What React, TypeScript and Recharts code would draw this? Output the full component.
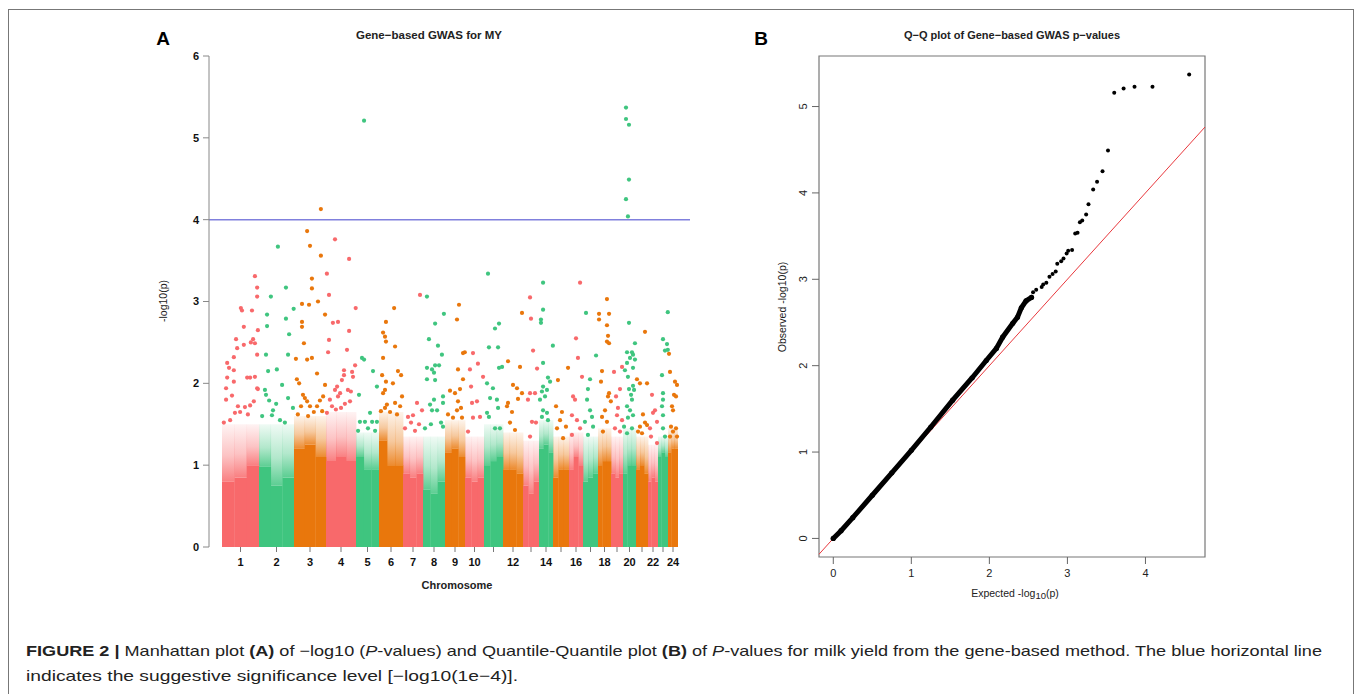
import React from 'react';
import { ScatterChart, Scatter, XAxis, YAxis, ReferenceArea, ReferenceLine } from 'recharts';

// ---- Manhattan plot (A) ----
const chromosomes = ['1', '2', '3', '4', '5', '6', '7', '8', '9', '10', '11', '12', '13', '14', '15', '16', '17', '18', '19', '20', '21', '22', '23', '24'];
const tickLabels = ['1', '2', '3', '4', '5', '6', '7', '8', '9', '10', '', '12', '', '14', '', '16', '', '18', '', '20', '', '22', '', '24'];
// relative number of genes per chromosome (width of each block)
const chrSize = [37, 35, 32, 30, 23, 24, 20, 22, 20, 19, 19, 20, 16, 14, 16, 14, 15, 13, 12, 13, 12, 10, 10, 10];
const chrColors = ['#f8696b', '#3fc57f', '#e9770c'];

// where the dots merge into a solid block (left / middle / right third of each chromosome)
const solidTops = [
  [0.8, 0.85, 1.0], [0.98, 0.75, 0.85], [1.2, 1.25, 1.1], [1.05, 1.1, 1.05], [1.1, 0.95, 0.95],
  [1.3, 1.0, 1.0], [0.9, 0.85, 0.9], [0.7, 0.65, 0.8], [1.15, 1.2, 1.1], [0.85, 0.8, 0.85],
  [1.0, 1.05, 1.1], [0.95, 0.95, 0.9], [0.75, 0.65, 0.8], [1.2, 1.25, 1.15], [0.85, 0.95, 0.95],
  [0.95, 1.1, 1.0], [0.8, 0.85, 0.9], [1.0, 1.05, 1.05], [0.9, 0.85, 0.9], [0.9, 1.0, 1.0],
  [0.95, 1.0, 0.9], [0.8, 0.85, 0.8], [1.1, 1.15, 1.1], [1.15, 1.2, 1.2],
];
// upper edge of the speckled zone above the solid block
const hazeTops = [1.5, 1.5, 1.6, 1.65, 1.4, 1.65, 1.35, 1.35, 1.55, 1.35, 1.5, 1.4, 1.3, 1.55, 1.35, 1.4, 1.35, 1.45, 1.35, 1.45, 1.35, 1.25, 1.35, 1.45];

// individual genes above the dense zone: [position along chromosome (0-1), -log10(p)]
const hitsByChr: number[][][] = [
  [[0.89, 3.31], [0.95, 3.17], [0.95, 3.06], [0.51, 2.92], [0.54, 2.89], [0.81, 2.89], [0.59, 2.69], [0.97, 2.65], [0.38, 2.54], [0.84, 2.54], [0.14, 2.25], [0.19, 2.19], [0.14, 2.07], [0.11, 1.94], [0.11, 1.8], [0.41, 2.43], [0.32, 2.32], [0.32, 2.16], [0.32, 2.02], [0.59, 2.47], [0.78, 2.5], [0.89, 2.49], [0.95, 2.35], [0.68, 2.07], [0.76, 2.07], [0.89, 2.08], [0.95, 1.94], [0.97, 1.93], [0.62, 1.71], [0.76, 1.73], [0.49, 1.65], [0.35, 1.64], [0.22, 1.55], [0.43, 1.72], [0.7, 1.62], [0.86, 1.78], [0.05, 1.52], [0.27, 1.85]],
  [[0.54, 3.67], [0.34, 3.06], [0.23, 2.84], [0.23, 2.7], [0.77, 3.17], [0.77, 2.79], [0.86, 2.6], [0.99, 2.91], [0.2, 2.35], [0.26, 2.15], [0.51, 2.17], [0.83, 2.35], [0.66, 1.98], [0.17, 1.92], [0.2, 1.86], [0.29, 1.79], [0.4, 1.67], [0.37, 1.61], [0.97, 1.7], [0.83, 1.82], [0.09, 1.6], [0.6, 1.55], [0.74, 1.52], [0.49, 1.75]],
  [[0.84, 4.13], [0.41, 3.86], [0.5, 3.68], [0.84, 3.56], [0.56, 3.28], [0.56, 3.16], [0.25, 2.97], [0.47, 2.96], [0.75, 3.0], [0.25, 2.75], [0.25, 2.69], [0.97, 2.84], [0.31, 2.49], [0.06, 2.3], [0.41, 2.29], [0.56, 2.31], [0.09, 2.05], [0.16, 2.0], [0.72, 2.12], [0.97, 1.98], [0.28, 1.86], [0.34, 1.82], [0.41, 1.78], [0.5, 1.72], [0.22, 1.72], [0.81, 1.79], [0.91, 1.84], [0.72, 1.72], [0.62, 1.65], [0.12, 1.62], [0.44, 1.6], [0.88, 1.66]],
  [[0.3, 3.76], [0.77, 3.52], [0.03, 3.34], [0.1, 3.08], [0.23, 2.74], [0.4, 2.75], [0.99, 2.92], [0.77, 2.64], [0.07, 2.38], [0.1, 2.53], [0.7, 2.41], [0.6, 2.16], [0.6, 2.1], [0.53, 2.04], [0.37, 1.96], [0.3, 1.92], [0.47, 1.88], [0.4, 1.84], [0.87, 2.14], [0.9, 2.08], [0.73, 1.92], [0.83, 1.9], [0.13, 1.8], [0.2, 1.72], [0.03, 1.64], [0.97, 2.22], [0.63, 1.75], [0.5, 1.7], [0.33, 1.68], [0.8, 1.78]],
  [[0.35, 5.21], [0.26, 2.31], [0.35, 2.29], [0.74, 2.15], [0.13, 1.86], [0.61, 1.64], [0.17, 1.53], [0.39, 1.53], [0.7, 1.53], [0.91, 1.53], [0.91, 1.96], [0.52, 1.45], [0.83, 1.42], [0.09, 1.42]],
  [[0.29, 2.75], [0.63, 2.92], [0.17, 2.62], [0.25, 2.57], [0.29, 2.51], [0.67, 2.45], [0.17, 2.31], [0.13, 2.1], [0.29, 2.02], [0.58, 2.0], [0.79, 2.15], [0.92, 2.1], [0.25, 1.92], [0.17, 1.88], [0.33, 1.74], [0.25, 1.7], [0.96, 1.84], [0.88, 1.72], [0.67, 1.76], [0.46, 1.65], [0.75, 1.62], [0.08, 1.66]],
  [[0.85, 3.08], [0.25, 1.59], [0.5, 1.61], [0.95, 1.67], [0.4, 1.52], [0.7, 1.76], [0.1, 1.45], [0.6, 1.42], [0.8, 1.5]],
  [[0.18, 3.06], [0.55, 2.73], [0.27, 2.54], [0.95, 2.85], [0.68, 2.46], [0.18, 2.19], [0.18, 2.05], [0.41, 2.17], [0.55, 2.22], [0.73, 2.22], [0.5, 2.13], [0.55, 2.04], [0.86, 2.35], [0.5, 1.8], [0.32, 1.74], [0.41, 1.67], [0.64, 1.67], [0.91, 1.84], [0.91, 1.76], [0.82, 1.52], [0.91, 1.47], [0.09, 1.45], [0.36, 1.5]],
  [[0.7, 2.96], [0.6, 2.78], [0.99, 2.38], [0.9, 2.37], [0.65, 2.17], [0.75, 1.93], [0.25, 1.91], [0.9, 2.05], [0.5, 1.88], [0.65, 1.78], [0.6, 1.67], [0.4, 1.58], [0.85, 1.58], [0.15, 1.62], [0.8, 1.7]],
  [[0.42, 2.37], [0.68, 2.24], [0.26, 2.17], [0.95, 2.08], [0.32, 1.96], [0.63, 1.78], [0.37, 1.76], [0.42, 1.58], [0.79, 1.59], [0.16, 1.41]],
  [[0.21, 3.34], [0.58, 2.67], [0.79, 2.73], [0.26, 2.44], [0.74, 2.44], [0.95, 2.2], [0.79, 2.19], [0.16, 2.0], [0.47, 1.94], [0.32, 1.82], [0.68, 1.8], [0.74, 1.7], [0.16, 1.64], [0.26, 1.59], [0.58, 1.45], [0.84, 1.45]],
  [[0.95, 2.86], [0.25, 2.27], [0.85, 2.2], [0.5, 1.98], [0.7, 1.94], [0.75, 1.81], [0.25, 1.76], [0.2, 1.72], [0.45, 1.65], [0.95, 1.88], [0.35, 1.52], [0.6, 1.43]],
  [[0.44, 3.05], [0.5, 2.79], [0.63, 2.4], [0.88, 2.18], [0.44, 1.88], [0.75, 1.88], [0.31, 1.8], [0.56, 1.53], [0.81, 1.52], [0.44, 1.35]],
  [[0.29, 3.23], [0.29, 2.9], [0.14, 2.78], [0.14, 2.74], [0.29, 2.25], [0.99, 2.46], [0.29, 1.96], [0.57, 1.92], [0.21, 1.9], [0.43, 1.84], [0.07, 1.8], [0.64, 2.07], [0.79, 2.02], [0.29, 1.67], [0.57, 1.64], [0.21, 1.59], [0.64, 1.55]],
  [[0.31, 2.04], [0.19, 1.72], [0.56, 1.65], [0.81, 1.47], [0.94, 2.19], [0.25, 1.45], [0.63, 1.33], [0.44, 1.55]],
  [[0.79, 3.23], [0.5, 2.55], [0.64, 2.31], [0.93, 2.08], [0.43, 1.8], [0.29, 1.84], [0.21, 1.61], [0.57, 1.55], [0.79, 1.45], [0.21, 1.37]],
  [[0.2, 2.86], [0.87, 2.34], [0.47, 2.05], [0.33, 1.93], [0.27, 1.8], [0.47, 1.67], [0.6, 1.59], [0.13, 1.53], [0.67, 1.47], [0.33, 1.37]],
  [[0.69, 3.03], [0.08, 2.85], [0.85, 2.85], [0.08, 2.78], [0.69, 2.71], [0.77, 2.58], [0.69, 2.51], [0.85, 2.49], [0.31, 2.15], [0.23, 2.02], [0.85, 1.88], [0.77, 1.84], [0.99, 1.78], [0.54, 1.67], [0.31, 1.59], [0.69, 1.53], [0.38, 1.41]],
  [[0.25, 2.14], [0.75, 1.93], [0.92, 2.2], [0.42, 1.84], [0.58, 1.7], [0.5, 1.61], [0.92, 1.55], [0.33, 1.45], [0.75, 1.41]],
  [[0.23, 5.37], [0.23, 5.23], [0.46, 5.16], [0.46, 4.49], [0.23, 4.25], [0.38, 4.04], [0.46, 2.74], [0.92, 2.49], [0.69, 2.38], [0.31, 2.38], [0.77, 2.35], [0.54, 2.31], [0.92, 2.29], [0.31, 2.25], [0.77, 2.19], [0.15, 2.16], [0.38, 2.08], [0.77, 1.97], [0.85, 1.92], [0.46, 1.93], [0.62, 1.86], [0.69, 1.8], [0.31, 1.72], [0.54, 1.67], [0.38, 1.58], [0.77, 1.61], [0.08, 1.47], [0.69, 1.45], [0.31, 1.39]],
  [[0.75, 2.63], [0.08, 2.05], [0.33, 2.0], [0.92, 2.0], [0.33, 1.47], [0.92, 1.49], [0.75, 1.52], [0.17, 1.41], [0.5, 1.39], [0.58, 1.62]],
  [[0.4, 1.86], [0.7, 1.67], [0.5, 1.64], [0.9, 1.53], [0.3, 1.35], [0.9, 1.27], [0.2, 1.45]],
  [[0.98, 2.87], [0.5, 2.54], [0.9, 2.48], [0.7, 2.4], [0.98, 2.41], [0.4, 2.1], [0.5, 1.88], [0.5, 1.8], [0.4, 1.72], [0.5, 1.61], [0.5, 1.45], [0.7, 1.35]],
  [[0.1, 2.36], [0.7, 2.02], [0.2, 2.14], [0.9, 1.98], [0.6, 1.86], [0.8, 1.84], [0.5, 1.67], [0.4, 1.72], [0.3, 1.47], [0.8, 1.45], [0.5, 1.41], [0.2, 1.35], [0.9, 1.35]],
];

const suggestiveLine = 4; // -log10(1e-4)

// ---- Q-Q plot (B) ----
const qqDenseExpected = [0, 0.1, 0.25, 0.5, 0.75, 1.0, 1.25, 1.53, 1.78, 1.96, 2.09, 2.17, 2.3, 2.36, 2.41, 2.47, 2.54];
const qqDenseObserved = [0, 0.09, 0.24, 0.5, 0.76, 1.02, 1.29, 1.6, 1.86, 2.06, 2.2, 2.33, 2.49, 2.56, 2.67, 2.75, 2.79];
const qqTailExpected = [2.56, 2.6, 2.67, 2.69, 2.73, 2.77, 2.81, 2.85, 2.87, 2.92, 2.95, 2.99, 3.01, 3.06, 3.1, 3.13, 3.16, 3.19, 3.24, 3.27, 3.33, 3.38, 3.45, 3.52, 3.6, 3.72, 3.86, 4.09, 4.56];
const qqTailObserved = [2.85, 2.88, 2.91, 2.94, 2.96, 3.03, 3.06, 3.09, 3.18, 3.21, 3.24, 3.3, 3.33, 3.34, 3.53, 3.54, 3.66, 3.68, 3.75, 3.87, 4.04, 4.13, 4.25, 4.49, 5.16, 5.21, 5.23, 5.23, 5.37];

const chrStart = chrSize.map((_, i) => chrSize.slice(0, i).reduce((a, b) => a + b, 0));
const chrMid = chrStart.map((s, i) => s + chrSize[i] / 2);
const totalSize = chrSize.reduce((a, b) => a + b, 0);

const hitsByColor = chrColors.map((_, k) =>
  hitsByChr.flatMap((pts, c) =>
    c % 3 === k ? pts.map(([pos, v]) => ({ x: chrStart[c] + pos * chrSize[c], y: v })) : []
  )
);

const qqDense = qqDenseExpected.map((x, i) => ({ x, y: qqDenseObserved[i] }));
const qqTail = qqTailExpected.map((x, i) => ({ x, y: qqTailObserved[i] }));

const FONT = "'Liberation Sans', Arial, Helvetica, sans-serif";
const SEAM = 0.4; // small overlap so neighbouring blocks don't leave hairline gaps

const dot = (color: string, r: number) => (p: any) =>
  p.cx == null ? <g /> : <circle cx={p.cx} cy={p.cy} r={r} fill={color} />;

const QQYTick = (p: any) => {
  const tx = p.x - 3;
  return (
    <text x={tx} y={p.y} transform={`rotate(-90, ${tx}, ${p.y})`} textAnchor="middle"
      fontSize={11} fill="#222" fontFamily={FONT}>
      {p.payload.value}
    </text>
  );
};

function Manhattan() {
  const xMin = -13;
  const xMax = totalSize + 12;
  const segX = (i: number, t: number) => chrStart[i] + (chrSize[i] * t) / 3;
  return (
    <ScatterChart width={700} height={600} margin={{ top: 56, right: 10, bottom: 13, left: 149 }}>
      <XAxis type="number" dataKey="x" domain={[xMin, xMax]} allowDataOverflow ticks={chrMid} interval={0}
        tickFormatter={(v: number) => tickLabels[chrMid.indexOf(v)] ?? ''}
        axisLine={false} tickLine={{ stroke: '#777' }} tickSize={5} tickMargin={6} height={40}
        tick={{ fill: '#111', fontSize: 11, fontWeight: 700, fontFamily: FONT }} />
      <YAxis type="number" dataKey="y" domain={[0, 6]} allowDataOverflow ticks={[0, 1, 2, 3, 4, 5, 6]} interval={0}
        width={60} tickSize={6} tickMargin={4} axisLine={{ stroke: '#888' }} tickLine={{ stroke: '#888' }}
        tick={{ fill: '#111', fontSize: 11, fontWeight: 700, fontFamily: FONT }} />
      {chromosomes.map((c, i) =>
        solidTops[i].map((top, t) => (
          <ReferenceArea key={'h' + c + '-' + t}
            x1={segX(i, t)} x2={segX(i, t + 1) + (i < 23 || t < 2 ? SEAM : 0)}
            y1={top} y2={hazeTops[i]} fill={`url(#haze${i % 3})`} fillOpacity={1} stroke="none" ifOverflow="visible" />
        ))
      )}
      {chromosomes.map((c, i) =>
        solidTops[i].map((top, t) => (
          <ReferenceArea key={'s' + c + '-' + t}
            x1={segX(i, t)} x2={segX(i, t + 1) + (i < 23 || t < 2 ? SEAM : 0)}
            y1={0} y2={top} fill={chrColors[i % 3]} fillOpacity={1} stroke="none" ifOverflow="visible" />
        ))
      )}
      {chrColors.map((col, k) => (
        <Scatter key={col} data={hitsByColor[k]} fill={col} shape={dot(col, 2.1)} isAnimationActive={false} />
      ))}
      <ReferenceLine y={suggestiveLine} stroke="#8080dd" strokeWidth={1.5} />
    </ScatterChart>
  );
}

function QQPlot() {
  const xDom: [number, number] = [-0.183, 4.763];
  const yDom: [number, number] = [-0.215, 5.585];
  return (
    <ScatterChart width={500} height={620} margin={{ top: 56, right: 15, bottom: 33, left: 59 }}>
      <XAxis type="number" dataKey="x" domain={xDom} allowDataOverflow ticks={[0, 1, 2, 3, 4]} interval={0}
        axisLine={false} tickLine={{ stroke: '#666' }} tickSize={7} tickMargin={5} height={30}
        tick={{ fill: '#222', fontSize: 11, fontFamily: FONT }} />
      <YAxis type="number" dataKey="y" domain={yDom} allowDataOverflow ticks={[0, 1, 2, 3, 4, 5]} interval={0}
        width={40} axisLine={false} tickLine={{ stroke: '#666' }} tickSize={7} tickMargin={2} tick={<QQYTick />} />
      <ReferenceArea x1={xDom[0]} x2={xDom[1]} y1={yDom[0]} y2={yDom[1]} fill="none" stroke="#777" strokeWidth={1.2} />
      <ReferenceLine segment={[{ x: xDom[0], y: xDom[0] }, { x: xDom[1], y: xDom[1] }]} stroke="#e8383d" strokeWidth={1} />
      <Scatter data={qqDense} shape={dot('#000', 2.6)} line={{ stroke: '#000', strokeWidth: 5, strokeLinecap: 'round' }}
        lineType="joint" isAnimationActive={false} />
      <Scatter data={qqTail} shape={dot('#000', 2)} isAnimationActive={false} />
    </ScatterChart>
  );
}

export default function App() {
  return (
    <div style={{ position: 'absolute', left: 0, top: 0, width: 1360, height: 694, background: '#fff', overflow: 'hidden', fontFamily: FONT }}>
      <svg width={0} height={0} style={{ position: 'absolute' }}>
        <defs>
          {chrColors.map((col, k) => (
            <linearGradient key={col} id={`haze${k}`} x1="0" y1="0" x2="0" y2="1">
              <stop offset="0" stopColor={col} stopOpacity={0.08} />
              <stop offset="0.55" stopColor={col} stopOpacity={0.4} />
              <stop offset="1" stopColor={col} stopOpacity={0.85} />
            </linearGradient>
          ))}
        </defs>
      </svg>
      <div style={{ position: 'absolute', left: 0, top: 0 }}>
        <Manhattan />
      </div>
      <div style={{ position: 'absolute', left: 720, top: 0 }}>
        <QQPlot />
      </div>
      <svg width={1360} height={694} style={{ position: 'absolute', left: 0, top: 0, pointerEvents: 'none' }} fontFamily={FONT}>
        <rect x={8.5} y={9.5} width={1345} height={720} fill="none" stroke="#777" />
        <text x={163} y={45} fontSize={19} fontWeight={700} textAnchor="middle" fill="#000">A</text>
        <text x={761} y={45} fontSize={19} fontWeight={700} textAnchor="middle" fill="#000">B</text>
        <text x={429} y={39} fontSize={11.5} fontWeight={700} textAnchor="middle" fill="#222">Gene−based GWAS for MY</text>
        <text x={1012} y={39} fontSize={11} fontWeight={700} textAnchor="middle" fill="#222">Q−Q plot of Gene−based GWAS p−values</text>
        <text x={167} y={301} fontSize={10.5} textAnchor="middle" fill="#222" transform="rotate(-90, 167, 301)">-log10(p)</text>
        <text x={457} y={589} fontSize={11} fontWeight={700} textAnchor="middle" fill="#222">Chromosome</text>
        <text x={1015} y={597} fontSize={10.5} textAnchor="middle" fill="#222">Expected  -log<tspan fontSize={9.5} dy={2}>10</tspan><tspan dy={-2}>(p)</tspan></text>
        <text x={786} y={307} fontSize={10.5} textAnchor="middle" fill="#222" transform="rotate(-90, 786, 307)">Observed  -log10(p)</text>
        <text x={26} y={656} fontSize={15} fill="#222" textLength={1296} lengthAdjust="spacingAndGlyphs">
          <tspan fontWeight={700}>FIGURE 2 | </tspan>Manhattan plot <tspan fontWeight={700}>(A)</tspan> of −log10 (<tspan fontStyle="italic">P</tspan>-values) and Quantile-Quantile plot <tspan fontWeight={700}>(B)</tspan> of <tspan fontStyle="italic">P</tspan>-values for milk yield from the gene-based method. The blue horizontal line
        </text>
        <text x={26} y={681} fontSize={15} fill="#222" textLength={492} lengthAdjust="spacingAndGlyphs">
          indicates the suggestive significance level [−log10(1e−4)].
        </text>
      </svg>
    </div>
  );
}
